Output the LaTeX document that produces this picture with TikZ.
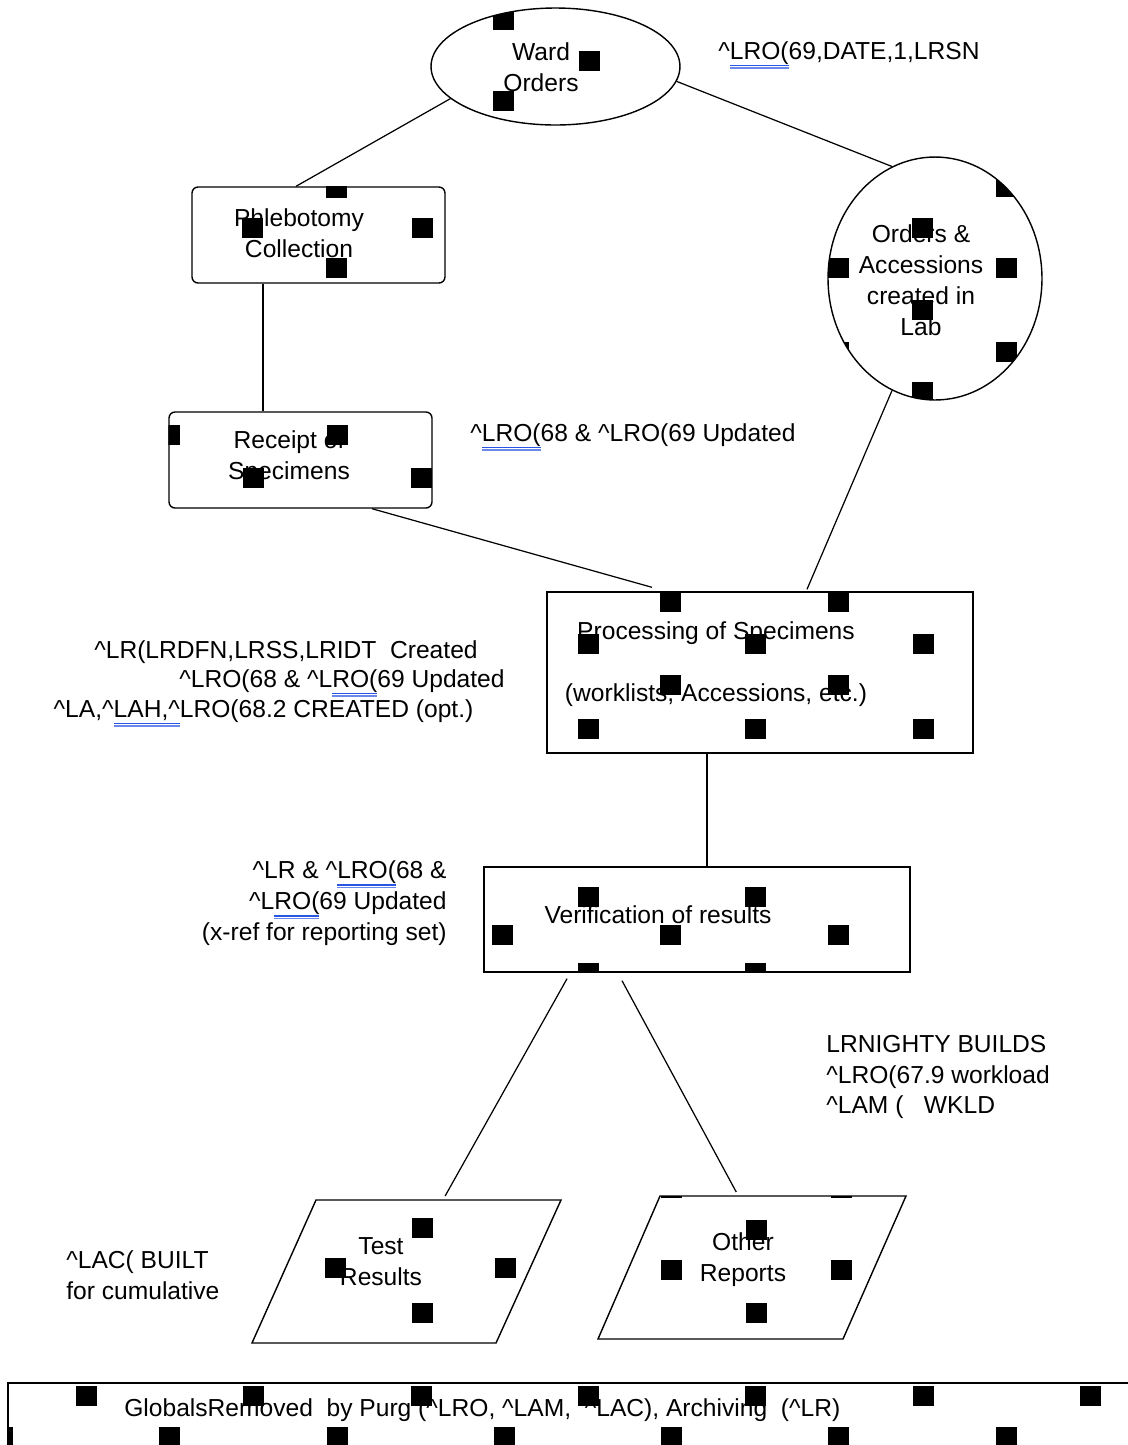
\documentclass[tikz,border=0pt]{standalone}
\usepackage{fontspec}
\setmainfont{Liberation Sans}
\usepackage{xcolor}
\usetikzlibrary{calc,shapes.geometric}

\definecolor{spellblue}{RGB}{40,85,225}
\newcommand{\crt}{\textasciicircum}
% blue double mark under a word
\newsavebox{\gmarkbox}
\newcommand{\gmark}[1]{\sbox{\gmarkbox}{#1}\rlap{\textcolor{spellblue}{\rule[-3.9pt]{\wd\gmarkbox}{0.8pt}}}\rlap{\textcolor{spellblue!70}{\rule[-5.4pt]{\wd\gmarkbox}{0.8pt}}}\usebox{\gmarkbox}}
% black squares of the fill
\newcommand{\blots}[1]{\foreach \bx/\by in {#1}{\fill (\bx,\by) +(-10.5,-10) rectangle +(10.5,10);}}

\tikzset{
  txt/.style={font=\fontsize{14}{17.6}\selectfont, align=center, inner sep=0pt},
  oval/.style={ellipse, draw, fill=white, line width=0.8pt, inner sep=0pt},
  panel/.style={rectangle, draw, fill=white, line width=0.8pt, rounded corners=0.12cm, inner sep=0pt},
  box/.style={rectangle, draw, fill=white, line width=0.8pt, inner sep=0pt},
  para/.style={draw, fill=white, line width=0.8pt},
  link/.style={line width=0.7pt}
}

\begin{document}
\begin{tikzpicture}[x=0.02cm, y=-0.02cm]
            \useasboundingbox (0,0) rectangle (1128,1445);
            \clip (0,0) rectangle (1128,1445);
            % shapes
            \node[oval, minimum width=4.98cm, minimum height=2.34cm] (ward) at (555.5,66.5) {};
            \node[panel, minimum width=5.06cm, minimum height=1.92cm] (phleb) at (318.5,235) {};
            \node[oval, minimum width=4.28cm, minimum height=4.86cm] (ords) at (935,278.5) {};
            \node[panel, minimum width=5.26cm, minimum height=1.92cm] (recpt) at (300.5,460) {};
            \node[box, minimum width=8.52cm, minimum height=3.22cm] (proc) at (760,672.5) {};
            \node[box, minimum width=8.52cm, minimum height=2.10cm] (verif) at (697,919.5) {};
            \coordinate (testtl) at (316,1200);
            \coordinate (testtr) at (561,1200);
            \coordinate (testbr) at (496,1343);
            \coordinate (testbl) at (252,1343);
            \draw[para] (testtl) -- (testtr) -- (testbr) -- (testbl) -- cycle;
            \coordinate (othertl) at (660,1196);
            \coordinate (othertr) at (906,1196);
            \coordinate (otherbr) at (843,1339);
            \coordinate (otherbl) at (598,1339);
            \draw[para] (othertl) -- (othertr) -- (otherbr) -- (otherbl) -- cycle;
            \node[box, minimum width=22.92cm, minimum height=1.80cm] (purge) at (581,1428) {};
            % texts in the shapes
            \node[txt] (wardtxt) at (541,67) {Ward\\Orders};
            \node[txt] (phlebtxt) at (299,233) {Phlebotomy\\Collection};
            \node[txt] (ordstxt) at (921,280) {Orders \&\\Accessions\\created in\\Lab};
            \node[txt] (recpttxt) at (289,458) {Receipt of\\Specimens};
            \node[txt] (proctxt) at (716,664) {Processing of Specimens\\[17.6pt](worklists, Accessions, etc.)};
            \node[txt] (veriftxt) at (658,915) {Verification of results};
            \node[txt] (testtxt) at (381,1262) {Test\\Results};
            \node[txt] (othertxt) at (743,1260) {Other\\Reports};
            \node[txt, anchor=west] (purgetxt) at (124,1410) {GlobalsRemoved\ \ by Purg (\crt LRO, \crt LAM,\ \ \crt LAC), Archiving\ \ (\crt LR)};
            % notes
            \node[txt, anchor=west] (lrsn) at (718,55) {\crt\gmark{LRO(}69,DATE,1,LRSN};
            \node[txt, anchor=west] (updt) at (470,437) {\crt\gmark{LRO(}68 \& \crt LRO(69 Updated};
            \node[txt] (crta) at (286,652) {\crt LR(LRDFN,LRSS,LRIDT\ \ Created};
            \node[txt] (crtb) at (342,683) {\crt LRO(68 \& \crt L\gmark{RO(}69 Updated};
            \node[txt] (crtc) at (263.5,713) {\crt LA,\crt\gmark{LAH,\crt}LRO(68.2 CREATED (opt.)};
            \node[txt, align=right, anchor=east] (xref) at (447,903.5) {\crt LR \& \crt\gmark{LRO(}68 \&\\\crt L\gmark{RO(}69 Updated\\(x-ref for reporting set)};
            \node[txt, align=left, anchor=west] (nighty) at (826,1077) {LRNIGHTY BUILDS\\\crt LRO(67.9 workload\\\crt LAM (\ \ \ WKLD};
            \node[txt, align=left, anchor=west] (cumul) at (66,1275) {\crt LAC( BUILT\\for cumulative};
            % connectors
            \draw[link] (ward.197) -- ([xshift=-0.45cm]phleb.north);
            \draw[link] (ward.353) -- (ords.111);
            \draw[link] ([xshift=-1.11cm]phleb.south) -- ([xshift=-1.11cm]phleb.south |- recpt.north);
            \draw[link] ([xshift=1.43cm]recpt.south) -- ([xshift=-2.16cm,yshift=0.08cm]proc.north);
            \draw[link] (ords.249) -- ([xshift=0.94cm,yshift=0.04cm]proc.north);
            \draw[link] ([xshift=-1.06cm]proc.south) -- ([xshift=-1.06cm]proc.south |- verif.north);
            \draw[link] ([xshift=-2.6cm,yshift=-0.12cm]verif.south) -- ($(testtl)!0.527!(testtr)+(0,-4)$);
            \draw[link] ([xshift=-1.5cm,yshift=-0.16cm]verif.south) -- ($(othertl)!0.31!(othertr)+(0,-4)$);
            % fill squares
            \begin{scope}
              \clip (ward.center) ellipse [x radius=2.49cm, y radius=1.17cm];
              \blots{503/20,589/61,503/101}
            \end{scope}
            \begin{scope}
              \clip (phleb.south west) rectangle (phleb.north east);
              \blots{336/188,252/228,422/228,336/268}
            \end{scope}
            \begin{scope}
              \clip (ords.center) ellipse [x radius=2.14cm, y radius=2.43cm];
              \blots{1006/187,838/187,922/228,838/268,1006/268,922/310,838/352,1006/352,922/392}
            \end{scope}
            \begin{scope}
              \clip (recpt.south west) rectangle (recpt.north east);
              \blots{169/435,337/435,253/478,421/478}
            \end{scope}
            \begin{scope}
              \clip (proc.south west) rectangle (proc.north east);
              \blots{670/602,838/602,588/644,755/644,923/644,670/685,838/685,588/729,755/729,923/729}
            \end{scope}
            \begin{scope}
              \clip (verif.south west) rectangle (verif.north east);
              \blots{588/897,755/897,502/935,670/935,838/935,588/973,755/973}
            \end{scope}
            \begin{scope}
              \clip (testtl) -- (testtr) -- (testbr) -- (testbl) -- cycle;
              \blots{422/1228,335/1268,505/1268,422/1313}
            \end{scope}
            \begin{scope}
              \clip (othertl) -- (othertr) -- (otherbr) -- (otherbl) -- cycle;
              \blots{756/1230,671/1270,841/1270,756/1313,671/1188,841/1188}
            \end{scope}
            \begin{scope}
              \clip (purge.south west) rectangle (purge.north east);
              \blots{86/1396,253/1396,421/1396,588/1396,755/1396,923/1396,1090/1396,2/1437,169/1437,337/1437,504/1437,671/1437,838/1437,1006/1437}
            \end{scope}
        \end{tikzpicture}
\end{document}
